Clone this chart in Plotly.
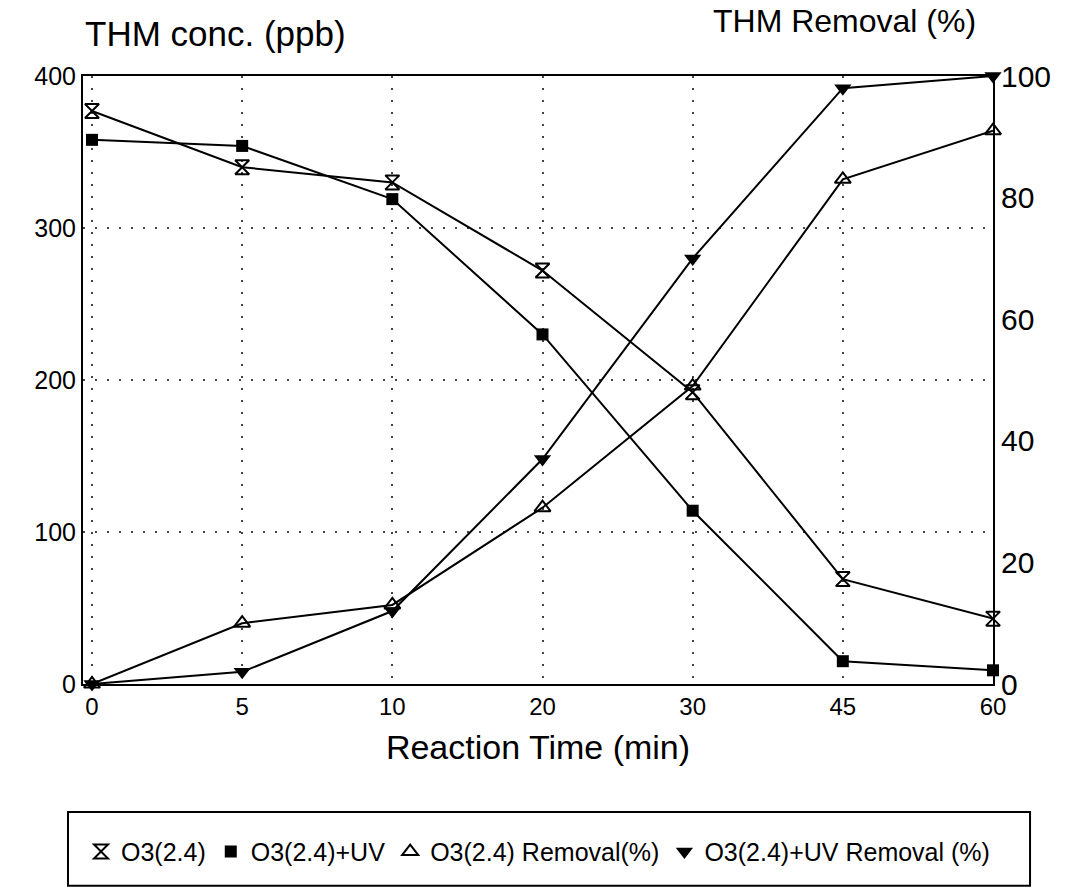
import plotly.graph_objects as go

times = ["0", "5", "10", "20", "30", "45", "60"]
o3_conc = [377, 340, 330, 272, 192, 69, 43]
o3uv_conc = [358, 354, 319, 230, 114, 15, 9]
o3_removal = [0, 10, 13, 29, 49, 83, 91]
o3uv_removal = [0, 2, 12, 37, 70, 98, 100]

names = ["O3(2.4)", "O3(2.4)+UV", "O3(2.4) Removal(%)", "O3(2.4)+UV Removal (%)"]
series = [o3_conc, o3uv_conc, o3_removal, o3uv_removal]
axes = ["y", "y", "y2", "y2"]
markers = [
    dict(symbol="hourglass-open", size=14, color="black", line=dict(width=2, color="black")),
    dict(symbol="square", size=12, color="black"),
    dict(symbol="triangle-up-open", size=14, color="black", line=dict(width=2, color="black")),
    dict(symbol="triangle-down", size=15, color="black"),
]

FONT = "Liberation Sans, Arial, sans-serif"
line = dict(color="black", width=2)

fig = go.Figure()
for nm, ys, ax, mk in zip(names, series, axes, markers):
    fig.add_trace(go.Scatter(x=times, y=ys, name=nm, mode="lines+markers", line=line,
                             marker=mk, yaxis=ax, cliponaxis=False, showlegend=False))
# legend entries (markers only, as in the reference)
for nm, mk in zip(names, markers):
    fig.add_trace(go.Scatter(x=[None], y=[None], name=nm, mode="markers", marker=mk,
                             showlegend=True))

fig.update_layout(
    width=1078, height=891,
    margin=dict(l=83, r=85, t=76, b=207),
    paper_bgcolor="white", plot_bgcolor="white",
    font=dict(family=FONT, color="black", size=17),
    xaxis=dict(type="category", categoryorder="array", categoryarray=times,
               range=[-0.06, 6.0], showline=True, linecolor="black", linewidth=2,
               mirror=True, ticks="", showgrid=True, gridcolor="#444", griddash="2px,10px",
               gridwidth=2, tickfont=dict(size=24), zeroline=False,
               title=dict(text="Reaction Time (min)", font=dict(size=34), standoff=16)),
    yaxis=dict(range=[0, 400], tickvals=[0, 100, 200, 300, 400], showline=True,
               linecolor="black", linewidth=2, ticks="", showgrid=True, gridcolor="#444",
               griddash="2px,10px", gridwidth=2, zeroline=False, tickfont=dict(size=25)),
    yaxis2=dict(range=[0, 100], tickvals=[0, 20, 40, 60, 80, 100], overlaying="y",
                side="right", showline=True, linecolor="black", linewidth=2, ticks="",
                showgrid=False, zeroline=False, tickfont=dict(size=30)),
    legend=dict(orientation="h", x=0.5, xanchor="center", y=-0.276, yanchor="middle",
                borderwidth=0, font=dict(size=25), itemwidth=30, tracegroupgap=0,
                bgcolor="rgba(0,0,0,0)"),
    shapes=[dict(type="rect", xref="paper", yref="paper", x0=-0.0165, x1=1.0407,
                 y0=-0.332, y1=-0.2105, line=dict(color="black", width=2))],
    annotations=[
        dict(text="THM conc. (ppb)", x=0.0, xanchor="left", y=1.07, yanchor="middle",
             xref="paper", yref="paper", showarrow=False, font=dict(size=35)),
        dict(text="THM Removal (%)", x=0.837, xanchor="center", y=1.09, yanchor="middle",
             xref="paper", yref="paper", showarrow=False, font=dict(size=32)),
    ],
)

fig.write_html("out.html")
